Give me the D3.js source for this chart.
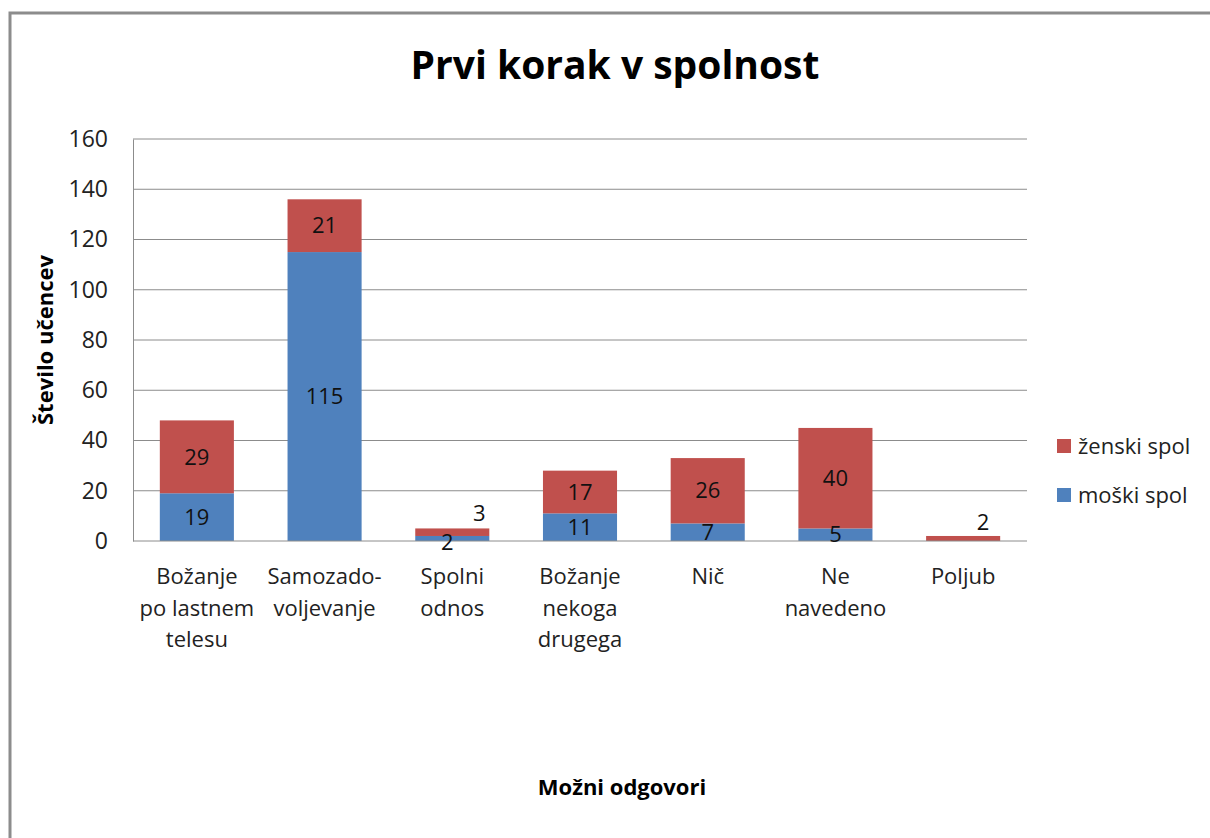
<!DOCTYPE html>
<html lang="sl">
<head>
<meta charset="UTF-8">
<title>Prvi korak v spolnost</title>
<script src="https://d3js.org/d3.v7.min.js"></script>
<style>
    body { margin: 0; background: #fff; }
    svg { display: block; font-family: "Open Sans", Lato, sans-serif; }
</style>
</head>
<body>
<svg id="chart" width="1210" height="838"></svg>
<script>
    // data
    const categories = [
        ["Božanje", "po lastnem", "telesu"],
        ["Samozado-", "voljevanje"],
        ["Spolni", "odnos"],
        ["Božanje", "nekoga", "drugega"],
        ["Nič"],
        ["Ne", "navedeno"],
        ["Poljub"]
    ];
    const moski = [19, 115, 2, 11, 7, 5, 0];
    const zenski = [29, 21, 3, 17, 26, 40, 2];
    const yTicks = [0, 20, 40, 60, 80, 100, 120, 140, 160];
    const seriesNames = ["moški spol", "ženski spol"];

    const colors = { "moški spol": "#4F81BD", "ženski spol": "#C0504D" };

    // hand-moved labels (index of category -> offset), as in the original
    const labelNudge = {
        "moški spol": { 2: [-5, 4] },
        "ženski spol": { 2: [27, -19], 6: [20, -16] }
    };

    const width = 1210, height = 838;
    const margin = { left: 133, right: 183, top: 139, bottom: 297 };
    const fontSize = 22;

    const svg = d3.select("#chart");

    // outer frame
    svg.append("rect")
        .attr("x", 10).attr("y", 13)
        .attr("width", 1220).attr("height", 850)
        .attr("fill", "#fff")
        .attr("stroke", "#8c8c8c")
        .attr("stroke-width", 3);

    const idx = d3.range(categories.length);

    const x = d3.scaleBand()
        .domain(idx)
        .range([margin.left, width - margin.right])
        .paddingInner(0.42)
        .paddingOuter(0.21);

    const y = d3.scaleLinear()
        .domain([0, 160])
        .range([height - margin.bottom, margin.top]);

    // gridlines
    svg.append("g")
        .selectAll("line")
        .data(yTicks.slice(1))
        .join("line")
        .attr("x1", margin.left).attr("x2", width - margin.right)
        .attr("y1", d => y(d)).attr("y2", d => y(d))
        .attr("stroke", "#8c8c8c")
        .attr("stroke-width", 1);

    // y axis
    const yAxis = svg.append("g")
        .attr("transform", `translate(${margin.left},0)`)
        .call(d3.axisLeft(y).tickValues(yTicks).tickSize(0).tickPadding(25));
    yAxis.select(".domain").attr("stroke", "#8c8c8c");
    yAxis.selectAll("text")
        .attr("font-size", 23)
        .attr("fill", "#222")
        .style("font-family", "'Open Sans', Lato, sans-serif");

    // stacked data
    const rows = idx.map(i => ({ i: i, "moški spol": moski[i], "ženski spol": zenski[i] }));
    const stacked = d3.stack().keys(seriesNames)(rows);

    const layers = svg.append("g")
        .selectAll("g")
        .data(stacked)
        .join("g")
        .attr("fill", d => colors[d.key]);

    layers.selectAll("rect")
        .data(d => d)
        .join("rect")
        .attr("x", d => x(d.data.i))
        .attr("width", x.bandwidth())
        .attr("y", d => y(d[1]))
        .attr("height", d => y(d[0]) - y(d[1]));

    // x axis line
    svg.append("line")
        .attr("x1", margin.left).attr("x2", width - margin.right)
        .attr("y1", y(0)).attr("y2", y(0))
        .attr("stroke", "#8c8c8c");

    // data labels
    stacked.forEach(layer => {
        const key = layer.key;
        svg.append("g")
            .selectAll("text")
            .data(layer.filter(d => d[1] - d[0] > 0))
            .join("text")
            .attr("x", d => x(d.data.i) + x.bandwidth() / 2 + ((labelNudge[key][d.data.i] || [0, 0])[0]))
            .attr("y", d => y((d[0] + d[1]) / 2) + ((labelNudge[key][d.data.i] || [0, 0])[1]))
            .attr("dy", "0.35em")
            .attr("text-anchor", "middle")
            .attr("font-size", fontSize)
            .attr("fill", "#111")
            .text(d => d[1] - d[0]);
    });

    // category labels
    const catG = svg.append("g")
        .selectAll("text")
        .data(idx)
        .join("text")
        .attr("text-anchor", "middle")
        .attr("font-size", fontSize)
        .attr("fill", "#222")
        .attr("transform", i => `translate(${x(i) + x.bandwidth() / 2},${y(0) + 43})`);
    catG.selectAll("tspan")
        .data(i => categories[i])
        .join("tspan")
        .attr("x", 0)
        .attr("y", (d, k) => k * 31.5)
        .text(d => d);

    // title
    svg.append("text")
        .attr("x", 615).attr("y", 79)
        .attr("text-anchor", "middle")
        .attr("font-size", 39)
        .attr("font-weight", "bold")
        .attr("fill", "#000")
        .text("Prvi korak v spolnost");

    // axis titles
    svg.append("text")
        .attr("transform", `translate(53,${(y(0) + y(160)) / 2}) rotate(-90)`)
        .attr("text-anchor", "middle")
        .attr("font-size", 22)
        .attr("font-weight", "bold")
        .attr("fill", "#000")
        .text("Število učencev");

    svg.append("text")
        .attr("x", 622)
        .attr("y", 795)
        .attr("text-anchor", "middle")
        .attr("font-size", 22)
        .attr("font-weight", "bold")
        .attr("fill", "#000")
        .text("Možni odgovori");

    // legend
    const legend = svg.append("g")
        .selectAll("g")
        .data(["ženski spol", "moški spol"])
        .join("g")
        .attr("transform", (d, k) => `translate(1057,${446 + k * 49})`);
    legend.append("rect")
        .attr("x", 0).attr("y", -7)
        .attr("width", 14).attr("height", 14)
        .attr("fill", d => colors[d]);
    legend.append("text")
        .attr("x", 21).attr("dy", "0.35em")
        .attr("font-size", fontSize)
        .attr("fill", "#222")
        .text(d => d);
</script>
</body>
</html>
